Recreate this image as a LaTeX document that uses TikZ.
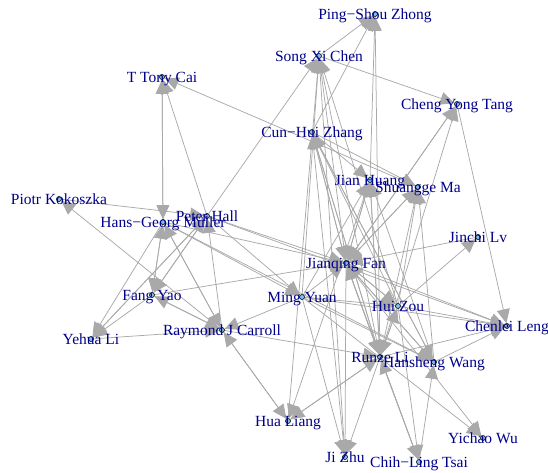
\documentclass[tikz,border=0pt]{standalone}
\usepackage{fontspec}
\setmainfont{Liberation Serif}
\usetikzlibrary{arrows.meta,backgrounds}
\definecolor{skyb}{HTML}{7EC0EE}
\definecolor{navyb}{HTML}{00008B}
\definecolor{edgegray}{HTML}{A9A9A9}

\begin{document}
\begin{tikzpicture}[x=1pt,y=-1pt,
			vtx/.style={
				circle,
				draw=black,
				fill=skyb,
				line width=0.6pt,
				inner sep=0pt,
				minimum size=5pt
			},
			lbl/.style={
				anchor=base,
				yshift=-5pt,
				inner sep=0pt,
				text=navyb,
				font=\fontsize{15.5}{16}\selectfont
			},
			link/.style={
				draw=edgegray,
				line width=0.75pt,
				-{Triangle[length=14pt,width=13pt]}
			}
			]
			\useasboundingbox (0,0) rectangle (548,472);
			% authors
			\node[vtx] (psz) at (375,14) {};
			\node[vtx] (sxc) at (319,56) {};
			\node[vtx] (tcai) at (162,77) {};
			\node[vtx] (cyt) at (457,104) {};
			\node[vtx] (chz) at (312,132) {};
			\node[vtx] (jh) at (370,180) {};
			\node[vtx] (sm) at (418,187) {};
			\node[vtx] (pk) at (59,199) {};
			\node[vtx] (hgm) at (163,222) {};
			\node[vtx] (ph) at (207,216) {};
			\node[vtx] (jl) at (478,237) {};
			\node[vtx] (jf) at (346,263) {};
			\node[vtx] (fy) at (152,295) {};
			\node[vtx] (my) at (302,297) {};
			\node[vtx] (hz) at (398,306) {};
			\node[vtx] (yl) at (91,339) {};
			\node[vtx] (rc) at (222,330) {};
			\node[vtx] (cl) at (507,326) {};
			\node[vtx] (rl) at (380,357) {};
			\node[vtx] (hw) at (434,362) {};
			\node[vtx] (hl) at (288,421) {};
			\node[vtx] (yw) at (483,438) {};
			\node[vtx] (jz) at (345,457) {};
			\node[vtx] (clt) at (419,462) {};
			% names
			\node[lbl] (psz-t) at (psz) {Ping−Shou Zhong};
			\node[lbl] (sxc-t) at (sxc) {Song Xi Chen};
			\node[lbl] (tcai-t) at (tcai) {T Tony Cai};
			\node[lbl] (cyt-t) at (cyt) {Cheng Yong Tang};
			\node[lbl] (chz-t) at (chz) {Cun−Hui Zhang};
			\node[lbl] (jh-t) at (jh) {Jian Huang};
			\node[lbl] (sm-t) at (sm) {Shuangge Ma};
			\node[lbl] (pk-t) at (pk) {Piotr Kokoszka};
			\node[lbl] (hgm-t) at (hgm) {Hans−Georg Müller};
			\node[lbl] (ph-t) at (ph) {Peter Hall};
			\node[lbl] (jl-t) at (jl) {Jinchi Lv};
			\node[lbl] (jf-t) at (jf) {Jianqing Fan};
			\node[lbl] (fy-t) at (fy) {Fang Yao};
			\node[lbl] (my-t) at (my) {Ming Yuan};
			\node[lbl] (hz-t) at (hz) {Hui Zou};
			\node[lbl] (yl-t) at (yl) {Yehua Li};
			\node[lbl] (rc-t) at (rc) {Raymond J Carroll};
			\node[lbl] (cl-t) at (cl) {Chenlei Leng};
			\node[lbl] (rl-t) at (rl) {Runze Li};
			\node[lbl] (hw-t) at (hw) {Hansheng Wang};
			\node[lbl] (hl-t) at (hl) {Hua Liang};
			\node[lbl] (yw-t) at (yw) {Yichao Wu};
			\node[lbl] (jz-t) at (jz) {Ji Zhu};
			\node[lbl] (clt-t) at (clt) {Chih−Ling Tsai};
			\begin{scope}[on background layer]
			% top group
			\draw[link] (sxc) -- (psz); \draw[link] (chz) -- (psz); \draw[link] (jh) -- (psz); \draw[link] (rl) -- (psz);
			\draw[link] (ph) -- (sxc); \draw[link] (my) -- (sxc); \draw[link] (hl) -- (sxc); \draw[link] (jz) -- (sxc);
			\draw[link] (hz) -- (sxc); \draw[link] (rl) -- (sxc);
			\draw[link] (sxc) -- (cyt); \draw[link] (jf) -- (cyt); \draw[link] (rl) -- (cyt);
			\draw[link] (hgm) -- (tcai); \draw[link] (ph) -- (tcai); \draw[link] (sm) -- (tcai);
			\draw[link] (jf) -- (chz); \draw[link] (rl) -- (chz); \draw[link] (hz) -- (chz); \draw[link] (hw) -- (chz); \draw[link] (jz) -- (chz);
			\draw[link] (chz) -- (jh); \draw[link] (jf) -- (jh); \draw[link] (rl) -- (jh); \draw[link] (hw) -- (jh); \draw[link] (my) -- (jh);
			\draw[link] (chz) -- (sm); \draw[link] (jf) -- (sm); \draw[link] (hz) -- (sm); \draw[link] (rl) -- (sm); \draw[link] (hw) -- (sm);
			% left group
			\draw[link] (rc) -- (pk);
			\draw[link] (tcai) -- (hgm); \draw[link] (rc) -- (hgm); \draw[link] (fy) -- (hgm);
			\draw[link] (pk) -- (ph); \draw[link] (yl) -- (ph); \draw[link] (rc) -- (ph); \draw[link] (fy) -- (ph);
			\draw[link] (hgm) -- (fy); \draw[link] (ph) -- (fy); \draw[link] (rc) -- (fy);
			\draw[link] (hgm) -- (yl); \draw[link] (ph) -- (yl); \draw[link] (fy) -- (yl);
			\draw[link] (hgm) -- (rc); \draw[link] (fy) -- (rc); \draw[link] (my) -- (rc); \draw[link] (hl) -- (rc); \draw[link] (yl) -- (rc);
			\draw[link] (ph) -- (my); \draw[link] (hgm) -- (my);
			% Jianqing Fan
			\draw[link] (chz) -- (jf); \draw[link] (sxc) -- (jf); \draw[link] (jh) -- (jf); \draw[link] (sm) -- (jf);
			\draw[link] (cyt) -- (jf); \draw[link] (hgm) -- (jf); \draw[link] (ph) -- (jf); \draw[link] (fy) -- (jf);
			\draw[link] (my) -- (jf); \draw[link] (rl) -- (jf); \draw[link] (hz) -- (jf); \draw[link] (hw) -- (jf);
			\draw[link] (jl) -- (jf); \draw[link] (clt) -- (jf);
			% right and bottom
			\draw[link] (hz) -- (jl);
			\draw[link] (jf) -- (hz); \draw[link] (rl) -- (hz); \draw[link] (my) -- (hz);
			\draw[link] (cyt) -- (cl); \draw[link] (hz) -- (cl); \draw[link] (jf) -- (cl); \draw[link] (rl) -- (cl);
			\draw[link] (hw) -- (cl); \draw[link] (my) -- (cl); \draw[link] (ph) -- (cl);
			\draw[link] (jf) -- (rl); \draw[link] (chz) -- (rl); \draw[link] (rc) -- (rl); \draw[link] (hl) -- (rl);
			\draw[link] (clt) -- (rl); \draw[link] (jh) -- (rl); \draw[link] (hz) -- (rl);
			\draw[link] (my) -- (hw); \draw[link] (jf) -- (hw); \draw[link] (chz) -- (hw); \draw[link] (clt) -- (hw); \draw[link] (hgm) -- (hw);
			\draw[link] (rc) -- (hl); \draw[link] (rl) -- (hl); \draw[link] (jh) -- (hl);
			\draw[link] (my) -- (yw); \draw[link] (jf) -- (yw);
			\draw[link] (jf) -- (jz); \draw[link] (my) -- (jz); \draw[link] (rl) -- (jz);
			\draw[link] (rl) -- (clt); \draw[link] (hz) -- (clt);
			\end{scope}
		\end{tikzpicture}
\end{document}
